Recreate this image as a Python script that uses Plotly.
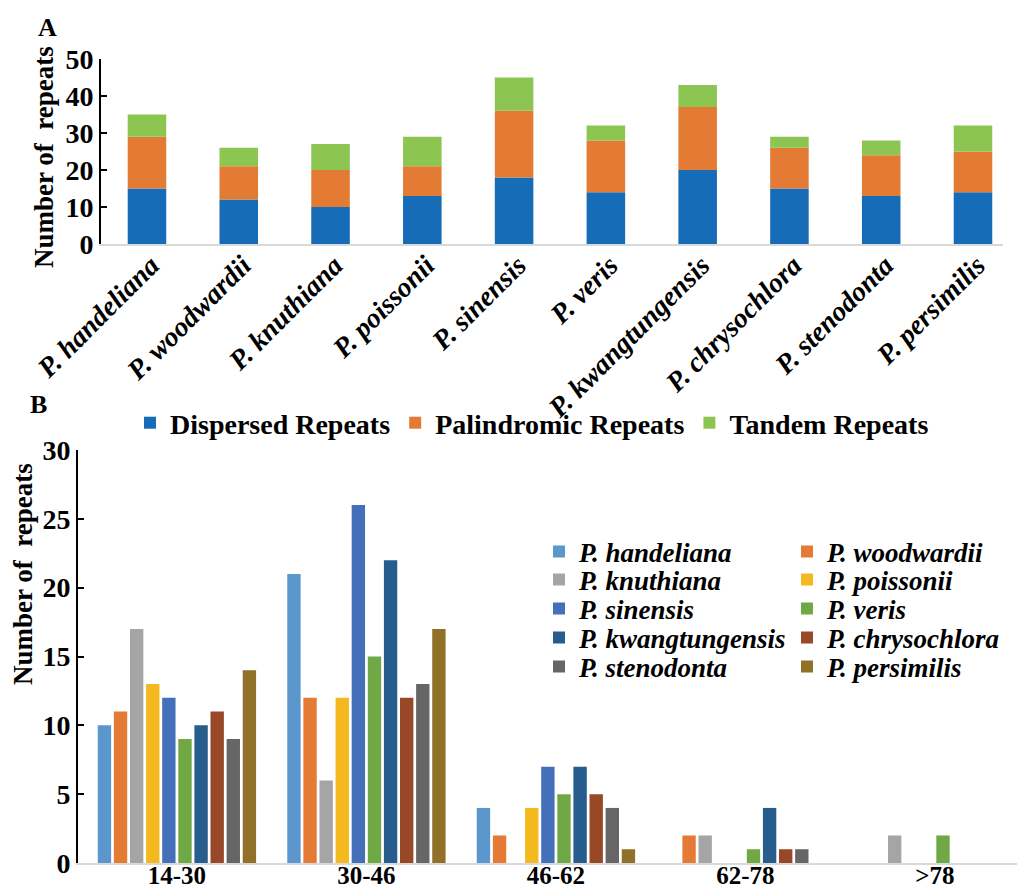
import numpy as np
import plotly.graph_objects as go

# ---------------- data ----------------
species = ["P. handeliana", "P. woodwardii", "P. knuthiana", "P. poissonii",
           "P. sinensis", "P. veris", "P. kwangtungensis", "P. chrysochlora",
           "P. stenodonta", "P. persimilis"]

# Panel A: repeat types per species
dispersed = [15, 12, 10, 13, 18, 14, 20, 15, 13, 14]
palindromic = [14, 9, 10, 8, 18, 14, 17, 11, 11, 11]
tandem = [6, 5, 7, 8, 9, 4, 6, 3, 4, 7]

# Panel B: repeat length classes
length_bins = ["14-30", "30-46", "46-62", "62-78", ">78"]
handeliana = [10, 21, 4, 0, 0]
woodwardii = [11, 12, 2, 2, 0]
knuthiana = [17, 6, 0, 2, 2]
poissonii = [13, 12, 4, 0, 0]
sinensis = [12, 26, 7, 0, 0]
veris = [9, 15, 5, 1, 2]
kwangtungensis = [10, 22, 7, 4, 0]
chrysochlora = [11, 12, 5, 1, 0]
stenodonta = [9, 13, 4, 1, 0]
persimilis = [14, 17, 1, 0, 0]
length_series = [handeliana, woodwardii, knuthiana, poissonii, sinensis,
                 veris, kwangtungensis, chrysochlora, stenodonta, persimilis]

# ---------------- styles ----------------
type_colors = ["#166CB6", "#E47B34", "#8DC553"]
species_colors = ["#5B97CC", "#E57A35", "#A5A5A5", "#F4B91E", "#4470BA",
                  "#70A846", "#265D8C", "#984827", "#666666", "#917127"]
serif = "Liberation Serif"
W, H = 1017, 892
legend_rows_px = [552, 580, 609, 638, 667]

fig = go.Figure()

# Panel A (stacked via base)
base_pal = np.array(dispersed)
base_tan = base_pal + np.array(palindromic)
for name, vals, base, col in [
        ("Dispersed Repeats", dispersed, None, type_colors[0]),
        ("Palindromic Repeats", palindromic, base_pal.tolist(), type_colors[1]),
        ("Tandem Repeats", tandem, base_tan.tolist(), type_colors[2])]:
    fig.add_trace(go.Bar(x=species, y=vals, base=base, name=name,
                         marker=dict(color=col, line=dict(width=0)),
                         width=0.42, offset=-0.21,
                         xaxis="x", yaxis="y", legend="legend"))

# Panel B (grouped); legend laid out as 5 rows x 2 columns
for i, (sp, vals) in enumerate(zip(species, length_series)):
    fig.add_trace(go.Bar(x=length_bins, y=vals, name=sp,
                         marker=dict(color=species_colors[i], line=dict(width=0)),
                         xaxis="x2", yaxis="y2",
                         legend="legend%d" % (i // 2 + 2)))

tick_font = dict(family=serif, size=28, weight="bold", color="black")
legB_font = dict(family=serif, size=27, weight="bold", style="italic",
                 color="black")

layout_legends = {}
for r, ypx in enumerate(legend_rows_px):
    layout_legends["legend%d" % (r + 2)] = dict(
        orientation="h", x=539 / W, xanchor="left",
        y=1 - ypx / H, yanchor="middle", entrywidth=203,
        font=legB_font, bgcolor="rgba(0,0,0,0)")

fig.update_layout(
    width=W, height=H,
    margin=dict(l=0, r=0, t=0, b=0, autoexpand=False),
    paper_bgcolor="white", plot_bgcolor="white",
    barmode="group", bargap=0.15, bargroupgap=0.17,
    xaxis=dict(domain=[101 / W, 1003 / W], anchor="y", type="category",
               range=[-0.501, 9.327], showline=True, linecolor="#D9D9D9",
               linewidth=1.5, ticks="", tickangle=-45,
               ticklabelstandoff=-8, ticklabelshift=4,
               tickfont=dict(family=serif, size=28, weight="bold",
                             style="italic", color="black"),
               showgrid=False, zeroline=False, automargin=False),
    yaxis=dict(domain=[1 - 244 / H, 1 - 59 / H], anchor="x", range=[0, 50],
               dtick=10, showline=True, linecolor="black", linewidth=2,
               ticks="inside", ticklen=6, tickwidth=2, tickcolor="black",
               tickfont=tick_font, showgrid=False, zeroline=False,
               automargin=False),
    xaxis2=dict(domain=[78 / W, 1], anchor="y2", type="category",
                range=[-0.522, 4.433], showline=True, linecolor="#D9D9D9",
                linewidth=1.5, ticks="",
                tickfont=dict(family=serif, size=25, weight="bold",
                              color="black"),
                ticklabelstandoff=-11,
                showgrid=False, zeroline=False, automargin=False),
    yaxis2=dict(domain=[1 - 863 / H, 1 - 450 / H], anchor="x2", range=[0, 30],
                dtick=5, showline=True, linecolor="black", linewidth=2,
                ticks="inside", ticklen=6, tickwidth=2, tickcolor="black",
                tickfont=tick_font, showgrid=False, zeroline=False,
                automargin=False),
    legend=dict(orientation="h", x=130 / W, xanchor="left",
                y=1 - 423 / H, yanchor="middle",
                font=dict(family=serif, size=28, weight="bold", color="black"),
                bgcolor="rgba(0,0,0,0)"),
    annotations=[
        dict(text="A", x=47 / W, y=1 - 28 / H, xref="paper", yref="paper",
             xanchor="center", yanchor="middle", showarrow=False,
             font=dict(family=serif, size=26, weight="bold", color="black")),
        dict(text="B", x=38 / W, y=1 - 404 / H, xref="paper", yref="paper",
             xanchor="center", yanchor="middle", showarrow=False,
             font=dict(family=serif, size=26, weight="bold", color="black")),
        dict(text="Number of\u00a0 repeats", x=44 / W, y=1 - 157 / H,
             xref="paper", yref="paper", textangle=-90, showarrow=False,
             xanchor="center", yanchor="middle",
             font=dict(family=serif, size=27, weight="bold", color="black")),
        dict(text="Number of\u00a0 repeats", x=23 / W, y=1 - 574 / H,
             xref="paper", yref="paper", textangle=-90, showarrow=False,
             xanchor="center", yanchor="middle",
             font=dict(family=serif, size=27, weight="bold", color="black")),
    ],
    **layout_legends,
)

fig.write_html("out.html", config={"displayModeBar": False},
               post_script="document.body.style.margin='0px';")
